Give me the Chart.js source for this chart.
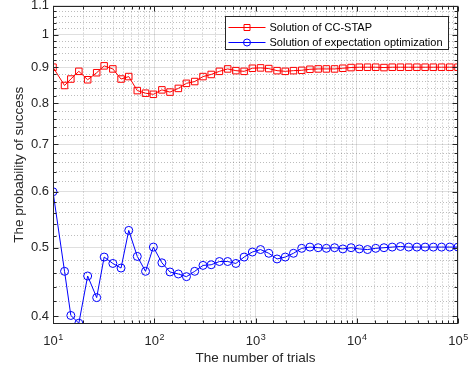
<!DOCTYPE html>
<html>
<head>
<meta charset="utf-8">
<script src="https://cdn.jsdelivr.net/npm/chart.js@4.4.0/dist/chart.umd.min.js"></script>
<style>
  html, body { margin: 0; padding: 0; background: #fff; }
  #wrap { width: 470px; height: 373px; position: relative; }
</style>
</head>
<body>
<div id="wrap"><canvas id="chart"></canvas></div>
<script>
// number of trials (log-spaced)
const trials = [10, 13, 15, 18, 22, 27, 32, 39, 47, 56, 68, 82, 98, 119, 143, 173, 208, 251, 303, 365,
  440, 531, 640, 772, 931, 1122, 1353, 1632, 1967, 2371, 2860, 3448, 4158, 5013, 6044, 7289, 8787,
  10595, 12777, 15404, 18574, 22395, 27008, 32565, 39265, 47346, 57081, 68828, 82985, 100000];

const ccStap = [0.900, 0.848, 0.866, 0.888, 0.864, 0.884, 0.904, 0.895, 0.866, 0.873,
  0.834, 0.827, 0.824, 0.836, 0.830, 0.840, 0.854, 0.859, 0.873, 0.879,
  0.888, 0.895, 0.890, 0.888, 0.897, 0.898, 0.896, 0.890, 0.888, 0.890,
  0.891, 0.894, 0.895, 0.895, 0.895, 0.897, 0.899, 0.900, 0.900, 0.900,
  0.899, 0.900, 0.900, 0.900, 0.900, 0.900, 0.900, 0.900, 0.900, 0.900];

const expectation = [0.600, 0.463, 0.401, 0.391, 0.456, 0.425, 0.485, 0.475, 0.468, 0.529,
  0.486, 0.463, 0.501, 0.476, 0.462, 0.459, 0.455, 0.463, 0.472, 0.473,
  0.478, 0.478, 0.475, 0.485, 0.493, 0.497, 0.491, 0.482, 0.485, 0.491,
  0.499, 0.501, 0.500, 0.499, 0.500, 0.498, 0.500, 0.498, 0.497, 0.499,
  0.500, 0.501, 0.502, 0.501, 0.501, 0.501, 0.501, 0.501, 0.501, 0.501];

const seriesNames = ['Solution of CC-STAP', 'Solution of expectation optimization'];

const xMajorValues = [10, 100, 1000, 10000, 100000];
const xMajorExponents = ['1', '2', '3', '4', '5'];
const yMajorValues = [0.4, 0.5, 0.6, 0.7, 0.8, 0.9, 1, 1.1];
const yMajorLabels = ['0.4', '0.5', '0.6', '0.7', '0.8', '0.9', '1', '1.1'];

const axisColor = '#262626';
const FONT = '"Liberation Sans", Arial, Helvetica, sans-serif';

// y minor ticks every 0.02
const yTickValues = [];
for (let v = 40; v <= 110; v += 2) yTickValues.push(v / 100);

const isXMajor = v => xMajorValues.includes(v);
const isYMajor = v => yMajorValues.some(m => Math.abs(m - v) < 1e-9);

Chart.defaults.font.family = FONT;
Chart.defaults.color = axisColor;

const matlabAxes = {
  id: 'matlabAxes',
  afterDatasetsDraw(chart) {
    const { ctx, chartArea: a, scales: { x, y } } = chart;
    const L = Math.round(a.left) + 0.5, R = Math.round(a.right) - 0.5;
    const T = Math.round(a.top) + 0.5, B = Math.round(a.bottom) - 0.5;
    ctx.save();
    ctx.strokeStyle = axisColor;
    ctx.lineWidth = 1;
    ctx.beginPath();
    x.ticks.forEach(t => {
      const px = Math.round(x.getPixelForValue(t.value)) + 0.5;
      const len = isXMajor(t.value) ? 5 : 3;
      ctx.moveTo(px, B); ctx.lineTo(px, B - len);
      ctx.moveTo(px, T); ctx.lineTo(px, T + len);
    });
    y.ticks.forEach(t => {
      const py = Math.round(y.getPixelForValue(t.value)) + 0.5;
      const len = isYMajor(t.value) ? 5 : 3;
      ctx.moveTo(L, py); ctx.lineTo(L + len, py);
      ctx.moveTo(R, py); ctx.lineTo(R - len, py);
    });
    ctx.stroke();
    ctx.strokeRect(L, T, R - L, B - T);

    // x tick labels 10^n
    ctx.fillStyle = axisColor;
    ctx.textBaseline = 'alphabetic';
    ctx.textAlign = 'left';
    xMajorValues.forEach((v, i) => {
      const px = x.getPixelForValue(v);
      ctx.font = '13px ' + FONT;
      const wb = ctx.measureText('10').width;
      ctx.font = '9px ' + FONT;
      const we = ctx.measureText(xMajorExponents[i]).width;
      const sx = px - (wb + we) / 2;
      ctx.font = '13px ' + FONT;
      ctx.fillText('10', sx, a.bottom + 21);
      ctx.font = '9px ' + FONT;
      ctx.fillText(xMajorExponents[i], sx + wb + 0.5, a.bottom + 16);
    });
    ctx.restore();
  },
  afterDraw(chart) {
    const { ctx, chartArea: a } = chart;
    const bx = Math.round(a.right) - 232.5, by = Math.round(a.top) + 10.5;
    const bw = 223, bh = 33;
    ctx.save();
    ctx.fillStyle = '#fff';
    ctx.fillRect(bx, by, bw, bh);
    ctx.strokeStyle = axisColor;
    ctx.lineWidth = 1;
    ctx.strokeRect(bx, by, bw, bh);
    ctx.font = '11px ' + FONT;
    ctx.textBaseline = 'middle';
    ctx.textAlign = 'left';
    chart.data.datasets.forEach((ds, i) => {
      const yy = Math.round(by + 10 + i * 15) + 0.5;
      ctx.strokeStyle = ds.borderColor;
      ctx.lineWidth = 1;
      ctx.beginPath();
      ctx.moveTo(bx + 3, yy); ctx.lineTo(bx + 40, yy);
      ctx.stroke();
      const mx = bx + 21.5;
      ctx.beginPath();
      if (ds.pointStyle === 'rect') {
        ctx.rect(mx - 3, yy - 3, 6, 6);
      } else {
        ctx.arc(mx, yy, 3.5, 0, Math.PI * 2);
      }
      ctx.stroke();
      ctx.fillStyle = '#000';
      ctx.fillText(ds.label, bx + 44, yy);
    });
    ctx.restore();
  }
};

new Chart(document.getElementById('chart'), {
  type: 'line',
  data: {
    datasets: [{
      label: seriesNames[0],
      data: trials.map((t, i) => ({ x: t, y: ccStap[i] })),
      borderColor: '#ff0000',
      backgroundColor: 'rgba(0,0,0,0)',
      borderWidth: 1,
      pointStyle: 'rect',
      pointRadius: 4.6,
      pointBorderWidth: 1,
      pointBackgroundColor: 'rgba(0,0,0,0)',
      tension: 0
    }, {
      label: seriesNames[1],
      data: trials.map((t, i) => ({ x: t, y: expectation[i] })),
      borderColor: '#0000ff',
      backgroundColor: 'rgba(0,0,0,0)',
      borderWidth: 1,
      pointStyle: 'circle',
      pointRadius: 4,
      pointBorderWidth: 1,
      pointBackgroundColor: 'rgba(0,0,0,0)',
      tension: 0
    }]
  },
  options: {
    responsive: true,
    maintainAspectRatio: false,
    animation: false,
    layout: { padding: { top: 5, right: 12, left: 0, bottom: 0 } },
    plugins: {
      legend: { display: false },
      tooltip: { enabled: false }
    },
    scales: {
      x: {
        type: 'logarithmic',
        min: 10,
        max: 100000,
        ticks: { display: false, autoSkip: false },
        grid: {
          drawTicks: false,
          color: ctx => (ctx.tick && isXMajor(ctx.tick.value)) ? 'rgba(38,38,38,0.15)' : 'rgba(38,38,38,0.3)'
        },
        border: {
          display: false,
          dash: ctx => (ctx.tick && !isXMajor(ctx.tick.value)) ? [1, 2] : []
        },
        title: {
          display: true,
          text: 'The number of trials',
          color: axisColor,
          font: { size: 13.5 },
          padding: { top: 0, bottom: 7 }
        },
        afterFit: s => { s.height = 49; s.paddingLeft = 0; s.paddingRight = 0; }
      },
      y: {
        type: 'logarithmic',
        min: 0.39,
        max: 1.1,
        afterBuildTicks: s => { s.ticks = yTickValues.map(v => ({ value: v })); },
        ticks: {
          autoSkip: false,
          padding: 4,
          color: axisColor,
          font: { size: 13 },
          callback: v => {
            const k = yMajorValues.findIndex(m => Math.abs(m - v) < 1e-9);
            return k >= 0 ? yMajorLabels[k] : '';
          }
        },
        grid: {
          drawTicks: false,
          color: ctx => (ctx.tick && isYMajor(ctx.tick.value)) ? 'rgba(38,38,38,0.15)' : 'rgba(38,38,38,0.3)'
        },
        border: {
          display: false,
          dash: ctx => (ctx.tick && !isYMajor(ctx.tick.value)) ? [1, 2] : []
        },
        title: {
          display: true,
          text: 'The probability of success',
          color: axisColor,
          font: { size: 13.5 },
          padding: { top: 11, bottom: 0 }
        },
        afterFit: s => { s.width = 53; s.paddingTop = 0; s.paddingBottom = 0; }
      }
    }
  },
  plugins: [matlabAxes]
});
</script>
</body>
</html>
